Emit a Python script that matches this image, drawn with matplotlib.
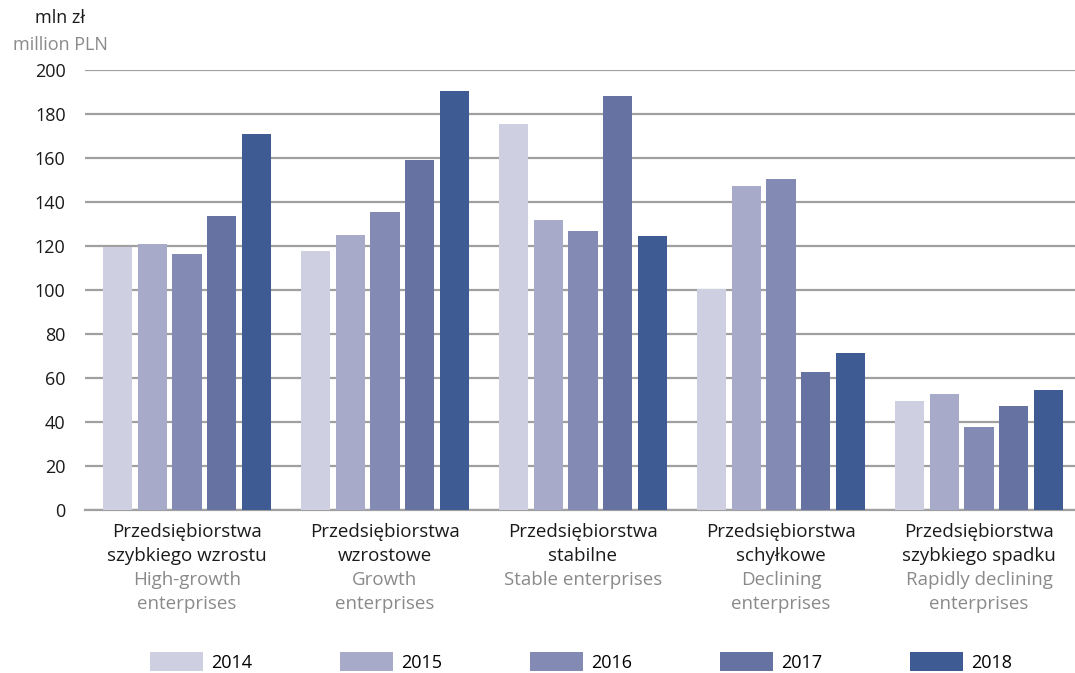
import numpy as np
import matplotlib.pyplot as plt
from matplotlib.patches import Patch

plt.rcParams['font.family'] = ['Open Sans', 'DejaVu Sans']

# Data
categories_pl = ["Przedsiębiorstwa\nszybkiego wzrostu", "Przedsiębiorstwa\nwzrostowe",
                 "Przedsiębiorstwa\nstabilne", "Przedsiębiorstwa\nschyłkowe",
                 "Przedsiębiorstwa\nszybkiego spadku"]
categories_en = ["High-growth\nenterprises", "Growth\nenterprises", "Stable enterprises",
                 "Declining\nenterprises", "Rapidly declining\nenterprises"]
years = ["2014", "2015", "2016", "2017", "2018"]
v2014 = [119.5, 117.7, 175.5, 100.5, 49.5]
v2015 = [120.9, 125.0, 131.8, 147.3, 52.7]
v2016 = [116.4, 135.5, 126.8, 150.5, 37.7]
v2017 = [133.6, 159.1, 188.2, 62.7, 47.3]
v2018 = [170.9, 190.5, 124.5, 71.4, 54.5]
series = [v2014, v2015, v2016, v2017, v2018]
colors = ["#CED0E2", "#A7AAC8", "#838AB4", "#6572A2", "#3F5B94"]

fig = plt.figure(figsize=(10.75, 6.73), dpi=100)
ax = fig.add_axes([85 / 1075, 1 - 510 / 673, 990 / 1075, 440 / 673])

x = np.arange(len(categories_pl))
pitch = 0.176
width = 0.147
for i, (vals, c) in enumerate(zip(series, colors)):
    ax.bar(x + (i - 2) * pitch, vals, width=width, color=c, zorder=3)

ax.set_xlim(-0.515, 4.485)
ax.set_ylim(0, 200)
ax.set_yticks(range(0, 201, 20))
ax.yaxis.grid(True, color="#a0a0a0", linewidth=1.6, zorder=0)
ax.set_axisbelow(True)
for s in ["top", "right", "left"]:
    ax.spines[s].set_visible(False)
ax.spines["bottom"].set_color("#a0a0a0")
ax.spines["bottom"].set_linewidth(1.6)
ax.tick_params(axis="y", length=0, pad=14, labelsize=13, labelcolor="#1a1a1a")
ax.tick_params(axis="x", length=0, labelbottom=False)

# two-language category labels
for xi, pl, en in zip(x, categories_pl, categories_en):
    ax.annotate(pl, (xi, 0), xycoords=("data", "axes fraction"), xytext=(0, -9.5),
                textcoords="offset points", ha="center", va="top", fontsize=13.5,
                color="#1a1a1a", linespacing=1.45)
    ax.annotate(en, (xi, 0), xycoords=("data", "axes fraction"), xytext=(0, -44),
                textcoords="offset points", ha="center", va="top", fontsize=13.5,
                color="#8a8a8a", linespacing=1.45)

fig.text(60 / 1075, 1 - 18 / 673, "mln zł", ha="center", va="center", fontsize=13, color="#1a1a1a")
fig.text(60 / 1075, 1 - 45 / 673, "million PLN", ha="center", va="center", fontsize=13, color="#8a8a8a")

handles = [Patch(facecolor=c, edgecolor="none") for c in colors]
fig.legend(handles, years, loc="center", bbox_to_anchor=(581 / 1075, 1 - 662 / 673), ncol=5,
           frameon=False, fontsize=13, handlelength=2.9, handleheight=1.2,
           handletextpad=0.45, columnspacing=4.9)

fig.savefig("out.png", dpi=100)
